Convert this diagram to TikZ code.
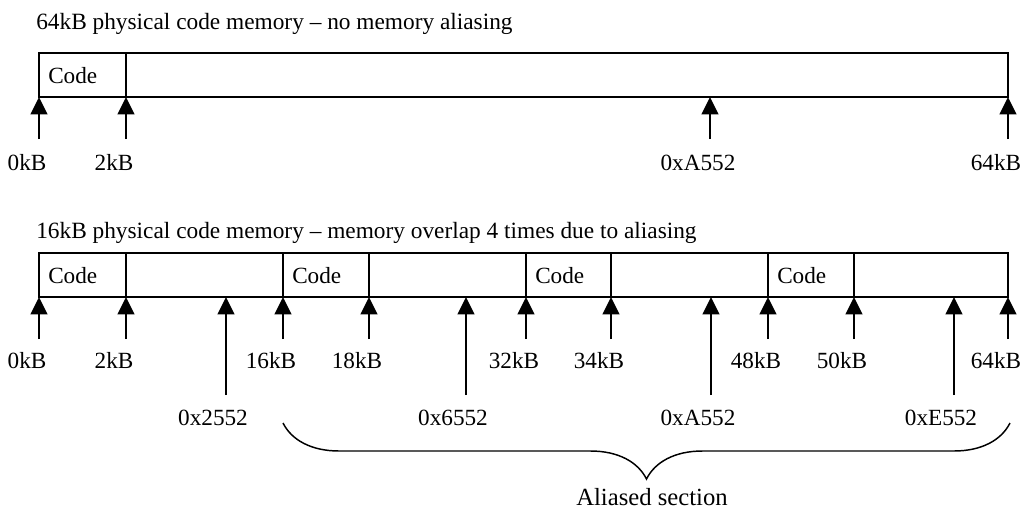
\documentclass[tikz,border=0pt]{standalone}
\usepackage{fontspec}
\setmainfont{Liberation Serif}
\usetikzlibrary{arrows.meta,decorations.pathreplacing}
\tikzset{
  membox/.style={draw, line width=1.3pt},
  tickarrow/.style={-{Triangle[length=13pt,width=12.5pt]}, line width=1.3pt},
  lbl/.style={font=\fontsize{17.4}{20}\selectfont, inner sep=0pt, anchor=base},
  ttl/.style={font=\fontsize{17.5}{20}\selectfont, inner sep=0pt, anchor=base west},
}

\begin{document}
\begin{tikzpicture}[x=0.75pt, y=-0.75pt]
  \useasboundingbox (0,0) rectangle (1026,518);
  % flat memory
  \node[ttl] (title1) at (36,29) {64kB physical code memory -- no memory aliasing};
  \draw[membox] (39,53) rectangle (1008,97);
  \draw[membox] (126,53) -- (126,97);
  \node[lbl, anchor=base west] (code0) at (48,83) {Code};
  \foreach \x/\name/\txt in {39/a/0kB, 126/b/2kB, 710/c/0xA552, 1008/d/64kB} {
    \coordinate (ttip\name) at (\x,97);
    \coordinate (tend\name) at (\x,139);
    \node[lbl] (tlab\name) at (\x-12,170) {\txt};
    \draw[tickarrow] (tend\name) -- (ttip\name);
  }
  % aliased memory
  \node[ttl] (title2) at (36,238) {16kB physical code memory -- memory overlap 4 times due to aliasing};
  \draw[membox] (39,253) rectangle (1008,297);
  \foreach \x in {126,283,369,526,611,768,854}
    \draw[membox] (\x,253) -- (\x,297);
  \foreach \x [count=\i] in {48,292,535,777}
    \node[lbl, anchor=base west] (code\i) at (\x,283) {Code};
  \foreach \x/\name/\txt in {39/a/0kB, 126/b/2kB, 283/c/16kB, 369/d/18kB, 526/e/32kB,
                             611/f/34kB, 768/g/48kB, 854/h/50kB, 1008/i/64kB} {
    \coordinate (btip\name) at (\x,297);
    \coordinate (bend\name) at (\x,339);
    \node[lbl] (blab\name) at (\x-12,368) {\txt};
    \draw[tickarrow] (bend\name) -- (btip\name);
  }
  \foreach \x/\name/\txt in {226/a/0x2552, 466/b/0x6552, 711/c/0xA552, 954/d/0xE552} {
    \coordinate (ltip\name) at (\x,297);
    \coordinate (lend\name) at (\x,395);
    \node[lbl] (llab\name) at (\x-13,425) {\txt};
    \draw[tickarrow] (lend\name) -- (ltip\name);
  }
  % brace
  \coordinate (brr) at (1010,423);
  \coordinate (brl) at (283,423);
  \draw[line width=1.1pt, decorate, decoration={brace, amplitude=42pt}] (brr) -- (brl);
  \node[lbl, font=\fontsize{18.5}{22}\selectfont] (alias) at (652,505) {Aliased section};
\end{tikzpicture}
\end{document}
